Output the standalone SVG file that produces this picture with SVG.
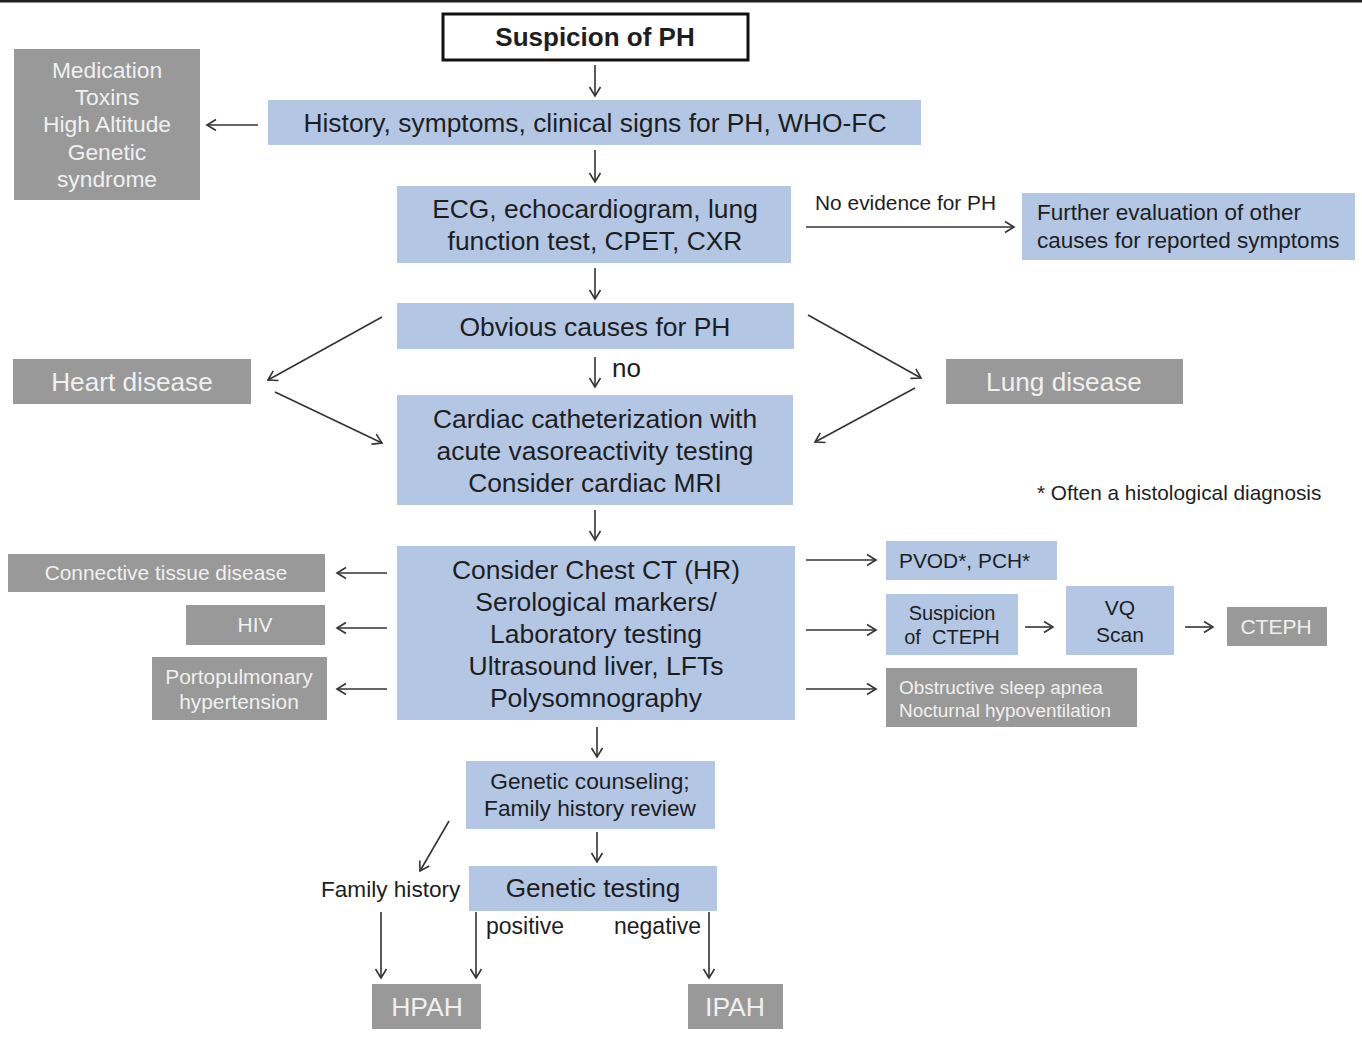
<svg xmlns="http://www.w3.org/2000/svg" width="1362" height="1040" viewBox="0 0 1362 1040">
<defs>
<marker id="ah" markerUnits="userSpaceOnUse" markerWidth="14" markerHeight="14" refX="11" refY="7" orient="auto">
<path d="M2,1.5 L11,7 L2,12.5" fill="none" stroke="#333" stroke-width="1.6"/>
</marker>
<style>
text{font-family:"Liberation Sans",Arial,sans-serif}
.b{fill:#b3c6e4}
.g{fill:#999999}
.tb{fill:#1e1e1e;text-anchor:middle}
.tg{fill:#f0f0f0;text-anchor:middle}
.tl{fill:#1e1e1e}
.c line{stroke:#333;stroke-width:1.6;marker-end:url(#ah)}
</style>
</defs>
<rect width="1362" height="1040" fill="#fff"/>
<rect x="0" y="0" width="1362" height="2.5" fill="#222"/>

<g id="suspicion">
<rect x="443" y="14" width="305" height="46" fill="#fff" stroke="#111" stroke-width="3"/>
<text x="595" y="46" class="tb" font-size="26" font-weight="bold">Suspicion of PH</text>
</g>
<g id="history">
<rect x="268" y="100" width="653" height="45" class="b"/>
<text x="595" y="132" class="tb" font-size="26.4">History, symptoms, clinical signs for PH, WHO-FC</text>
</g>
<g id="medication">
<rect x="14" y="49" width="186" height="151" class="g"/>
<text class="tg" font-size="22.8"><tspan x="107" y="78">Medication</tspan><tspan x="107" y="105">Toxins</tspan><tspan x="107" y="132">High Altitude</tspan><tspan x="107" y="160">Genetic</tspan><tspan x="107" y="187">syndrome</tspan></text>
</g>
<g id="ecg">
<rect x="397" y="186" width="394" height="77" class="b"/>
<text class="tb" font-size="26.4"><tspan x="595" y="218">ECG, echocardiogram, lung</tspan><tspan x="595" y="250">function test, CPET, CXR</tspan></text>
</g>
<g id="further">
<rect x="1022" y="193" width="333" height="67" class="b"/>
<text class="tl" font-size="22.5"><tspan x="1037" y="220">Further evaluation of other</tspan><tspan x="1037" y="248">causes for reported symptoms</tspan></text>
</g>
<g id="obvious">
<rect x="397" y="303" width="397" height="46" class="b"/>
<text x="595" y="336" class="tb" font-size="26.5">Obvious causes for PH</text>
</g>
<g id="heart">
<rect x="13" y="359" width="238" height="45" class="g"/>
<text x="132" y="391" class="tg" font-size="26.2">Heart disease</text>
</g>
<g id="lung">
<rect x="946" y="359" width="237" height="45" class="g"/>
<text x="1064" y="391" class="tg" font-size="26.2">Lung disease</text>
</g>
<g id="cardiac">
<rect x="397" y="395" width="396" height="110" class="b"/>
<text class="tb" font-size="26.4"><tspan x="595" y="428">Cardiac catheterization with</tspan><tspan x="595" y="460">acute vasoreactivity testing</tspan><tspan x="595" y="492">Consider cardiac MRI</tspan></text>
</g>
<g id="note">
<text x="1037" y="500" class="tl" font-size="20.8">* Often a histological diagnosis</text>
</g>
<g id="consider">
<rect x="397" y="546" width="398" height="174" class="b"/>
<text class="tb" font-size="26.5"><tspan x="596" y="579">Consider Chest CT (HR)</tspan><tspan x="596" y="611">Serological markers/</tspan><tspan x="596" y="643">Laboratory testing</tspan><tspan x="596" y="675">Ultrasound liver, LFTs</tspan><tspan x="596" y="707">Polysomnography</tspan></text>
</g>
<g id="ctd">
<rect x="8" y="554" width="317" height="38" class="g"/>
<text x="166" y="580" class="tg" font-size="20.9">Connective tissue disease</text>
</g>
<g id="hiv">
<rect x="186" y="605" width="139" height="40" class="g"/>
<text x="255" y="632" class="tg" font-size="20.9">HIV</text>
</g>
<g id="porto">
<rect x="152" y="657" width="175" height="63" class="g"/>
<text class="tg" font-size="20.9"><tspan x="239" y="684">Portopulmonary</tspan><tspan x="239" y="709">hypertension</tspan></text>
</g>
<g id="pvod">
<rect x="886" y="541" width="171" height="39" class="b"/>
<text x="899" y="568" class="tl" font-size="20.9">PVOD*, PCH*</text>
</g>
<g id="susp-cteph">
<rect x="886" y="594" width="132" height="61" class="b"/>
<text class="tb" font-size="20"><tspan x="952" y="620">Suspicion</tspan><tspan x="952" y="644" xml:space="preserve">of  CTEPH</tspan></text>
</g>
<g id="vq">
<rect x="1066" y="586" width="108" height="69" class="b"/>
<text class="tb" font-size="21"><tspan x="1120" y="615">VQ</tspan><tspan x="1120" y="642">Scan</tspan></text>
</g>
<g id="cteph">
<rect x="1227" y="607" width="100" height="39" class="g"/>
<text x="1276" y="634" class="tg" font-size="21">CTEPH</text>
</g>
<g id="osa">
<rect x="886" y="668" width="251" height="59" class="g"/>
<text fill="#f0f0f0" font-size="18.9"><tspan x="899" y="694">Obstructive sleep apnea</tspan><tspan x="899" y="717">Nocturnal hypoventilation</tspan></text>
</g>
<g id="counseling">
<rect x="466" y="761" width="249" height="68" class="b"/>
<text class="tb" font-size="22.7"><tspan x="590" y="789">Genetic counseling;</tspan><tspan x="590" y="816">Family history review</tspan></text>
</g>
<g id="testing">
<rect x="469" y="866" width="248" height="45" class="b"/>
<text x="593" y="897" class="tb" font-size="26.2">Genetic testing</text>
</g>
<g id="hpah">
<rect x="372" y="984" width="109" height="45" class="g"/>
<text x="427" y="1016" class="tg" font-size="26.5">HPAH</text>
</g>
<g id="ipah">
<rect x="688" y="984" width="95" height="45" class="g"/>
<text x="735" y="1016" class="tg" font-size="26.5">IPAH</text>
</g>

<g id="connectors" class="c">
<line x1="595" y1="65" x2="595" y2="96"/>
<line x1="258" y1="125" x2="207" y2="125"/>
<line x1="595" y1="150" x2="595" y2="182"/>
<line x1="806" y1="227" x2="1014" y2="227"/>
<line x1="595" y1="268" x2="595" y2="299"/>
<line x1="382" y1="317" x2="268" y2="380"/>
<line x1="275" y1="392" x2="382" y2="443"/>
<line x1="808" y1="315" x2="921" y2="378"/>
<line x1="915" y1="388" x2="815" y2="442"/>
<line x1="595" y1="357" x2="595" y2="387"/>
<line x1="595" y1="510" x2="595" y2="540"/>
<line x1="387" y1="573" x2="337" y2="573"/>
<line x1="387" y1="628" x2="337" y2="628"/>
<line x1="387" y1="689" x2="337" y2="689"/>
<line x1="806" y1="560" x2="876" y2="560"/>
<line x1="806" y1="630" x2="876" y2="630"/>
<line x1="806" y1="689" x2="876" y2="689"/>
<line x1="1025" y1="627" x2="1053" y2="627"/>
<line x1="1185" y1="627" x2="1213" y2="627"/>
<line x1="597" y1="727" x2="597" y2="757"/>
<line x1="597" y1="832" x2="597" y2="862"/>
<line x1="449" y1="821" x2="420" y2="871"/>
<line x1="381" y1="912" x2="381" y2="978"/>
<line x1="476" y1="912" x2="476" y2="978"/>
<line x1="709" y1="912" x2="709" y2="978"/>
</g>
<g id="labels">
<text x="815" y="210" class="tl" font-size="20.9">No evidence for PH</text>
<text x="612" y="377" class="tl" font-size="26">no</text>
<text x="321" y="897" class="tl" font-size="22.6">Family history</text>
<text x="486" y="934" class="tl" font-size="23">positive</text>
<text x="614" y="934" class="tl" font-size="23">negative</text>
</g>
</svg>
